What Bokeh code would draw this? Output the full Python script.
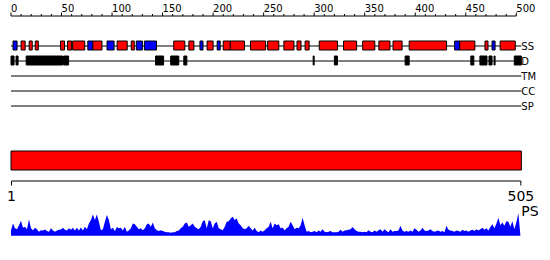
import numpy as np
from bokeh.plotting import figure
from bokeh.models import Range1d
from bokeh.core.properties import value
from bokeh.embed import file_html
from bokeh.resources import INLINE

# ---------------- data ----------------
SEQ_LEN = 505
TOP_TICKS = list(range(0, 501, 50))
TOP_TICK_LABELS = [str(t) for t in TOP_TICKS]
MINOR_TICKS = [t for t in range(0, 501, 10) if t % 50]
BOTTOM_TICKS = [1, 505]
BOTTOM_TICK_LABELS = ["1", "505"]
TRACKS = ["SS", "D", "TM", "CC", "SP"]

# secondary structure: H = helix (red), E = strand (blue)
SS_TYPE = ["E", "H", "H", "H", "H", "H", "H", "E", "H", "E", "H", "H", "E", "E",
           "H", "H", "E", "H", "E", "H", "H", "H", "H", "H", "H", "H", "H", "H",
           "H", "H", "H", "H", "E", "H", "H", "E", "H"]
SS_START = [3, 11, 19, 25, 50, 57, 62, 77, 82, 96, 106, 120, 125, 133,
            162, 177, 188, 195, 205, 211, 218, 238, 255, 271, 284, 292, 306, 330,
            349, 365, 379, 395, 440, 445, 470, 477, 485]
SS_END = [6, 14, 21, 27, 53, 60, 73, 81, 90, 102, 115, 122, 130, 144,
          172, 181, 190, 200, 207, 217, 231, 252, 265, 280, 287, 295, 323, 342,
          360, 375, 387, 431, 444, 459, 472, 479, 499]

# disorder segments
DIS_START = [1, 6, 16, 53, 144, 159, 172, 300, 321, 391, 456, 465, 474, 479, 499]
DIS_END = [3, 7, 51, 57, 151, 166, 174, 300, 323, 394, 458, 471, 476, 479, 505]

# PS profile (sampled along the sequence)
PS = [0.21, 0.46, 0.28, 0.25, 0.40, 0.56, 0.30, 0.34, 0.25, 0.61,
      0.28, 0.21, 0.30, 0.25, 0.15, 0.21, 0.20, 0.24, 0.18, 0.15,
      0.28, 0.20, 0.15, 0.20, 0.23, 0.24, 0.30, 0.23, 0.20, 0.28,
      0.23, 0.30, 0.20, 0.30, 0.20, 0.31, 0.20, 0.34, 0.25, 0.46,
      0.59, 0.80, 0.59, 0.80, 0.53, 0.21, 0.25, 0.53, 0.78, 0.59,
      0.25, 0.30, 0.18, 0.33, 0.28, 0.30, 0.20, 0.34, 0.15, 0.20,
      0.28, 0.46, 0.43, 0.34,
      0.25, 0.28, 0.21, 0.28, 0.43, 0.46, 0.34, 0.50, 0.28, 0.21,
      0.18, 0.21, 0.18, 0.15, 0.13, 0.13, 0.11, 0.13, 0.13, 0.18,
      0.20, 0.28, 0.34, 0.46, 0.50, 0.34, 0.40, 0.46, 0.34, 0.28,
      0.25, 0.34, 0.55, 0.58, 0.28, 0.58, 0.55, 0.28, 0.46, 0.53,
      0.28, 0.25, 0.21, 0.34, 0.53, 0.55, 0.65, 0.71, 0.59, 0.65,
      0.46, 0.40, 0.28, 0.25, 0.28, 0.38, 0.28, 0.20, 0.30, 0.18,
      0.13, 0.20, 0.15,
      0.21, 0.28, 0.34, 0.53, 0.28, 0.46, 0.40, 0.43, 0.28, 0.30,
      0.21, 0.28, 0.34, 0.53, 0.40, 0.25, 0.30, 0.28, 0.40, 0.68,
      0.40, 0.15, 0.18, 0.13, 0.15, 0.18, 0.13, 0.20, 0.15, 0.25,
      0.15, 0.13, 0.15, 0.18, 0.13, 0.13, 0.13, 0.15, 0.23, 0.15,
      0.20, 0.21, 0.23, 0.25, 0.33, 0.25, 0.18, 0.15, 0.15, 0.13,
      0.15, 0.13, 0.21, 0.15, 0.13, 0.20, 0.15, 0.21, 0.25, 0.15,
      0.25, 0.18, 0.13, 0.25, 0.15,
      0.18, 0.18, 0.20, 0.38, 0.20, 0.15, 0.18, 0.15, 0.20, 0.15,
      0.28, 0.23, 0.15, 0.20, 0.30, 0.20, 0.18, 0.20, 0.25, 0.18,
      0.15, 0.18, 0.20, 0.15, 0.18, 0.13, 0.38, 0.23, 0.20, 0.18,
      0.15, 0.20, 0.18, 0.15, 0.23, 0.18, 0.20, 0.15, 0.20, 0.23,
      0.18, 0.25, 0.20, 0.25, 0.30, 0.23, 0.28, 0.20, 0.33, 0.43,
      0.28, 0.45, 0.68, 0.40, 0.50, 0.38, 0.55, 0.53, 0.34, 0.55,
      0.25, 0.50, 0.85, 0.05]

# ---------------- layout constants ----------------
W, H = 550, 260
X0 = 10.5          # pixel of residue 0
K = 1.0106         # pixels per residue
FONT = value("DejaVu Sans")

p = figure(width=W, height=H, output_backend="svg", toolbar_location=None,
           x_range=Range1d(-X0 / K, (W - X0) / K), y_range=Range1d(H, 0),
           x_axis_location=None, y_axis_location=None, min_border=0,
           outline_line_color=None, background_fill_color="white",
           border_fill_color="white")
p.grid.visible = False

# PS profile range: 0 at the baseline, 1 ~ 26.7 px above
base_px, unit_px = 235.3, 26.67
p.extra_y_ranges = {"ps": Range1d(-(H - base_px) / unit_px, base_px / unit_px)}

TXT = dict(text_baseline="middle", text_font=FONT, text_color="black")

# ---- top ruler ----
AX_Y = 15.5
p.segment(x0=[0], y0=[AX_Y], x1=[500], y1=[AX_Y], line_color="black", line_width=1)
p.segment(x0=TOP_TICKS, y0=AX_Y, x1=TOP_TICKS, y1=AX_Y - 3.5, line_color="black", line_width=1)
p.segment(x0=MINOR_TICKS, y0=AX_Y, x1=MINOR_TICKS, y1=AX_Y - 2, line_color="black", line_width=1)
p.text(x=TOP_TICKS, y=7, text=TOP_TICK_LABELS, text_align="left",
       text_font_size="10px", **TXT)

# ---- tracks ----
row_y = [45.5 + 15 * i for i in range(len(TRACKS))]
p.segment(x0=0, y0=row_y, x1=SEQ_LEN, y1=row_y, line_color="black", line_width=1)
p.text(x=SEQ_LEN, y=row_y, text=TRACKS, text_align="left",
       text_font_size="10px", **TXT)

ss_colors = ["#ff0000" if t == "H" else "#0000ff" for t in SS_TYPE]
p.quad(left=[s - 1 for s in SS_START], right=SS_END, top=row_y[0] - 5, bottom=row_y[0] + 4,
       fill_color=ss_colors, line_color="black", line_width=1)
p.quad(left=[s - 1 for s in DIS_START], right=DIS_END, top=row_y[1] - 5, bottom=row_y[1] + 4,
       fill_color="black", line_color="black", line_width=1)

# ---- domain bar ----
p.quad(left=[0], right=[SEQ_LEN], top=[150.5], bottom=[169.5],
       fill_color="#ff0000", line_color="black", line_width=1)

# ---- bottom ruler ----
BX_Y = 180.5
bt = [t - 0.5 for t in BOTTOM_TICKS]
p.segment(x0=[bt[0]], y0=[BX_Y], x1=[bt[-1]], y1=[BX_Y], line_color="black", line_width=1)
p.segment(x0=bt, y0=BX_Y, x1=bt, y1=BX_Y + 4.5, line_color="black", line_width=1)
p.text(x=bt, y=195.3, text=BOTTOM_TICK_LABELS, text_align="center",
       text_font_size="14px", **TXT)
p.text(x=[SEQ_LEN], y=[210], text=["PS"], text_align="left",
       text_font_size="14px", **TXT)

# ---- PS profile ----
ps_x = np.linspace(0, SEQ_LEN - 1, len(PS))
p.varea(x=ps_x, y1=np.zeros(len(PS)), y2=PS, y_range_name="ps",
        fill_color="#0000ff")

open("out.html", "w").write(file_html(p, INLINE))
